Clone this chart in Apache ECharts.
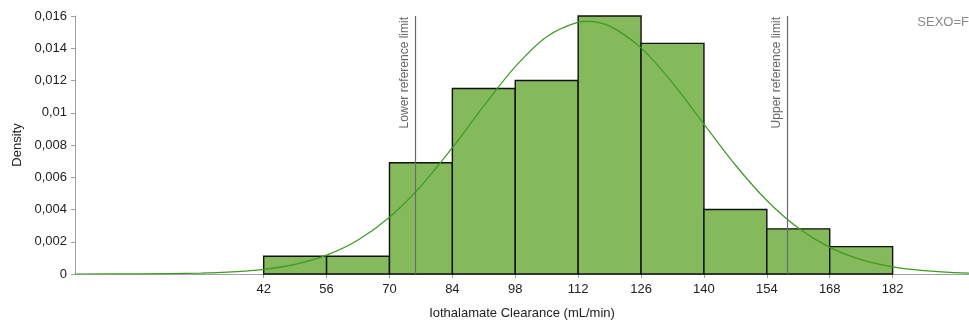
<!DOCTYPE html>
<html>
<head>
<meta charset="utf-8">
<script src="https://cdn.jsdelivr.net/npm/echarts@6/dist/echarts.min.js"></script>
<style>
  html, body { margin: 0; padding: 0; background: #fff; }
  #chart { width: 969px; height: 325px; }
</style>
</head>
<body>
<div id="chart"></div>
<script>
// Histogram bins (mL/min), width 14
const binStarts = [42, 56, 70, 84, 98, 112, 126, 140, 154, 168];
const binWidth = 14;
const densities = [0.0011, 0.0011, 0.0069, 0.0115, 0.0120, 0.0160, 0.0143, 0.0040, 0.0028, 0.0017];

// Fitted normal density curve, sampled along the axis
const curveX = [0, 14, 28, 35, 42, 49, 56, 63, 70, 77, 84, 91, 98, 105, 112, 114, 119, 126, 133, 140, 147, 154, 161, 168, 175, 182, 189, 196, 199];
const curveY = [0.000001, 0.000007, 0.000052, 0.000127, 0.000287, 0.000602, 0.00117, 0.00211, 0.00352, 0.00545, 0.00783, 0.01042, 0.01286, 0.01472, 0.01562, 0.01567, 0.01537, 0.01402, 0.01186, 0.0093, 0.00676, 0.00456, 0.00285, 0.00165, 0.00089, 0.00044, 0.000205, 0.000088, 0.00006];

// Reference limits
const lowerLimit = 75.7;
const upperLimit = 158.5;

const xTicks = [42, 56, 70, 84, 98, 112, 126, 140, 154, 168, 182];
const yTicks = [0, 0.002, 0.004, 0.006, 0.008, 0.01, 0.012, 0.014, 0.016];

const chart = echarts.init(document.getElementById('chart'), null, { renderer: 'canvas' });

const font = 'Liberation Sans, Arial, sans-serif';

chart.setOption({
  animation: false,
  textStyle: { fontFamily: font },
  title: {
    text: 'SEXO=F',
    right: 0,
    top: 16,
    padding: 0,
    textStyle: { fontSize: 13, fontWeight: 'normal', color: '#8a8a8a', fontFamily: font }
  },
  grid: { left: 75, right: 0, top: 16, bottom: 51, containLabel: false, outerBoundsMode: 'none' },
  xAxis: {
    type: 'value',
    min: 0,
    max: 199,
    name: 'Iothalamate Clearance (mL/min)',
    nameLocation: 'middle',
    nameGap: 33,
    nameTextStyle: { fontSize: 13, color: '#222', fontFamily: font },
    axisLine: { lineStyle: { color: '#a0a0a0', width: 1 } },
    axisTick: { show: true, customValues: xTicks, length: 4, lineStyle: { color: '#a0a0a0' } },
    axisLabel: { customValues: xTicks, fontSize: 13, color: '#222', margin: 9, fontFamily: font },
    splitLine: { show: false }
  },
  yAxis: {
    type: 'value',
    min: 0,
    max: 0.016,
    name: 'Density',
    nameLocation: 'middle',
    nameGap: 51,
    nameTextStyle: { fontSize: 13, color: '#222', fontFamily: font },
    axisLine: { show: true, lineStyle: { color: '#a0a0a0', width: 1 } },
    axisTick: { show: true, customValues: yTicks, length: 4, lineStyle: { color: '#a0a0a0' } },
    axisLabel: {
      customValues: yTicks,
      fontSize: 13,
      color: '#222',
      margin: 8,
      fontFamily: font,
      formatter: v => String(parseFloat(v.toFixed(4))).replace('.', ',')
    },
    splitLine: { show: false }
  },
  series: [
    {
      type: 'custom',
      name: 'Histogram',
      data: binStarts.map((s, i) => [s, s + binWidth, densities[i]]),
      renderItem: function (params, api) {
        const p0 = api.coord([api.value(0), 0]);
        const p1 = api.coord([api.value(1), api.value(2)]);
        return {
          type: 'rect',
          shape: { x: p0[0], y: p1[1], width: p1[0] - p0[0], height: p0[1] - p1[1] },
          style: { fill: '#84ba5b', stroke: '#111', lineWidth: 1.4 }
        };
      },
      encode: { x: [0, 1], y: 2 },
      z: 2
    },
    {
      type: 'line',
      name: 'Normal',
      data: curveX.map((x, i) => [x, curveY[i]]),
      smooth: 0.3,
      showSymbol: false,
      lineStyle: { color: '#3d9a22', width: 1.2 },
      z: 4
    },
    {
      type: 'line',
      name: 'Limits',
      data: [],
      z: 3,
      markLine: {
        silent: true,
        symbol: ['none', 'none'],
        lineStyle: { color: '#6a6a6a', width: 1.2, type: 'solid' },
        label: {
          show: true,
          position: 'insideEndTop',
          fontSize: 12,
          color: '#666',
          fontFamily: font,
          distance: [1, 4]
        },
        data: [
          { xAxis: lowerLimit, label: { formatter: 'Lower reference limit' } },
          { xAxis: upperLimit, label: { formatter: 'Upper reference limit' } }
        ]
      }
    }
  ]
});
</script>
</body>
</html>
